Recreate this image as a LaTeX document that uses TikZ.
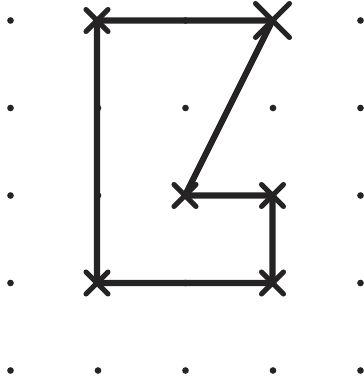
\documentclass[tikz,border=0pt]{standalone}
\definecolor{ink}{HTML}{262324}
\tikzset{
  dot/.style={fill=ink},
  edge/.style={draw=ink,line width=4.6pt,line join=round},
  xmark/.style={draw=ink,line width=3.8pt,line cap=round},
}
\newcommand{\xcross}[2]{\draw[xmark] ($(#1)+(-#2,-#2)$) -- ($(#1)+(#2,#2)$) ($(#1)+(-#2,#2)$) -- ($(#1)+(#2,-#2)$);}
\usetikzlibrary{calc}
\begin{document}
\begin{tikzpicture}[x=0.75pt,y=-0.75pt]
\useasboundingbox (0,0) rectangle (364,383);
\foreach \i in {0,...,4}{\foreach \j in {0,...,4}{
  \fill[dot] ({10.5+87.5*\i},{20.5+87.5*\j}) circle (2.5pt);}}
\coordinate (a) at (97,20.5);
\coordinate (b) at (272.5,20.5);
\coordinate (c) at (185,195.5);
\coordinate (d) at (272.5,195.5);
\coordinate (e) at (272.5,283);
\coordinate (f) at (97,283);
\draw[edge] (a) -- (b) -- (c) -- (d) -- (e) -- (f) -- cycle;
\xcross{a}{11}
\xcross{b}{17}
\xcross{c}{11}
\xcross{d}{11}
\xcross{e}{11}
\xcross{f}{11}
\end{tikzpicture}
\end{document}
